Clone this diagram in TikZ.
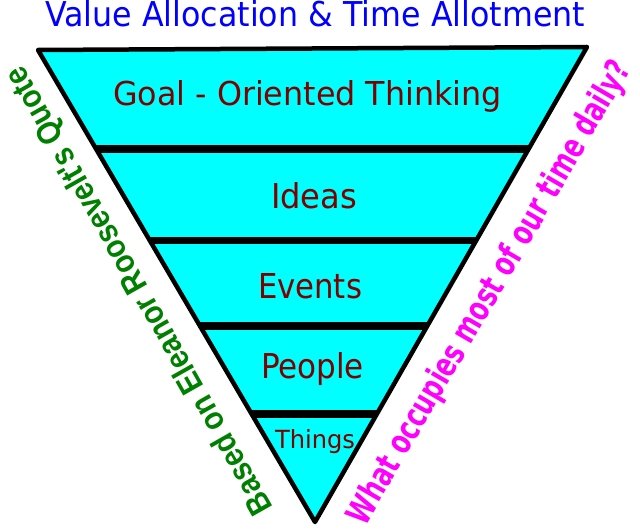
\documentclass[tikz,border=0pt]{standalone}
\usepackage{fontspec}
\usepackage{graphicx}
\newfontfamily\tah{DejaVu Sans}
\newfontfamily\narr{Liberation Sans}
\definecolor{fillcyan}{HTML}{00FFFF}
\definecolor{titleblue}{HTML}{0000FF}
\definecolor{labelred}{HTML}{800000}
\definecolor{leftgreen}{HTML}{008000}
\definecolor{rightpink}{HTML}{FF00FF}
\begin{document}
\begin{tikzpicture}[x=1bp,y=-1bp,
  txt/.style={inner sep=0pt, outer sep=0pt, anchor=base west},
  lbl/.style={txt, text=labelred},
  sep/.style={line width=7.5bp},
  outline/.style={line width=4.5bp, line join=round}]
\useasboundingbox (0,0) rectangle (640,531);
\coordinate (TL) at (38,50);
\coordinate (TR) at (587,47);
\coordinate (A) at (315,522);
\fill[fillcyan] (TL) -- (TR) -- (A) -- cycle;
\begin{scope}
  \clip (TL) -- (TR) -- (A) -- cycle;
  \draw[sep] (0,149) -- (640,149);
  \draw[sep] (0,240.5) -- (640,240.5);
  \draw[sep] (0,326) -- (640,326);
  \draw[sep] (0,414) -- (640,414);
\end{scope}
\draw[outline] (TL) -- (TR) -- (A) -- cycle;
\node[txt, text=titleblue] (title) at (45,27) {\resizebox{540bp}{26bp}{\tah Value Allocation \& Time Allotment}};
\node[lbl] (goal) at (113,106) {\resizebox{389bp}{25bp}{\tah Goal - Oriented Thinking}};
\node[lbl] (ideas) at (271,209) {\resizebox{86bp}{26bp}{\tah Ideas}};
\node[lbl] (events) at (258,298) {\resizebox{104bp}{25bp}{\tah Events}};
\node[lbl] (people) at (261,378) {\resizebox{103bp}{26bp}{\tah People}};
\node[lbl] (things) at (275,448) {\resizebox{80bp}{19bp}{\tah Things}};
\node[txt, rotate=119.5, text=leftgreen] (leftq) at (273,507) {\resizebox{508bp}{24bp}{\narr\bfseries Based on Eleanor Roosevelt's Quote}};
\node[txt, rotate=59.8, text=rightpink] (rightq) at (365,527) {\resizebox{530bp}{26bp}{\tah\bfseries What occupies most of our time daily?}};
\end{tikzpicture}
\end{document}
